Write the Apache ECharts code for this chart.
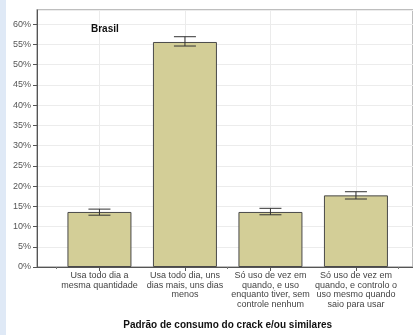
<!DOCTYPE html>
<html>
<head>
<meta charset="utf-8">
<script src="https://cdn.jsdelivr.net/npm/echarts@6/dist/echarts.min.js"></script>
<style>
  html, body { margin: 0; padding: 0; background: #ffffff; }
  #chart { width: 413px; height: 335px; }
</style>
</head>
<body>
<div id="chart"></div>
<script>
// Padrão de consumo do crack e/ou similares — Brasil
var categories = [
  'Usa todo dia a\nmesma quantidade',
  'Usa todo dia, uns\ndias mais, uns dias\nmenos',
  'Só uso de vez em\nquando, e uso\nenquanto tiver, sem\ncontrole nenhum',
  'Só uso de vez em\nquando, e controlo o\nuso mesmo quando\nsaio para usar'
];
var percentages = [13.6, 55.6, 13.6, 17.7];
var errorLow = [12.8, 54.6, 12.9, 16.8];
var errorHigh = [14.3, 56.9, 14.5, 18.6];

var FONT = 'Liberation Sans, Arial, sans-serif';
var Y_MAX = 63.5;

var chart = echarts.init(document.getElementById('chart'), null, { renderer: 'canvas' });

chart.setOption({
  backgroundColor: '#ffffff',
  animation: false,
  textStyle: { fontFamily: FONT },
  title: {
    text: 'Brasil',
    left: 91,
    top: 24,
    padding: 0,
    textStyle: { fontFamily: FONT, fontSize: 10, fontWeight: 'bold', color: '#111' }
  },
  graphic: [{
    type: 'rect',
    left: 0, top: 0,
    shape: { width: 6, height: 335 },
    style: { fill: '#dfe9f6' },
    silent: true
  }],
  grid: [
    { left: 37, right: -30, top: 10, bottom: 68, show: true,
      borderColor: '#a9a9a9', borderWidth: 1.5 },
    { left: 56.7, width: 342, top: 10, bottom: 68 },
    // spans the first to the last category centre, for the vertical guide lines
    { left: 56.7 + 342 / 8, width: 342 * 3 / 4, top: 10, bottom: 68 }
  ],
  xAxis: [
    { gridIndex: 0, type: 'value', min: 0, max: 1,
      axisLine: { show: true, lineStyle: { color: '#555', width: 1 } },
      axisTick: { show: false }, axisLabel: { show: false }, splitLine: { show: false } },
    { gridIndex: 1, type: 'category', data: categories, boundaryGap: true, position: 'bottom',
      axisLine: { show: false },
      axisTick: { show: true, alignWithLabel: true, length: 4, lineStyle: { color: '#555' } },
      axisLabel: { interval: 0, fontSize: 9, lineHeight: 9.5, color: '#444', margin: 4, fontFamily: FONT },
      splitLine: { show: false },
      name: 'Padrão de consumo do crack e/ou similares',
      nameLocation: 'middle', nameGap: 53,
      nameTextStyle: { fontFamily: FONT, fontSize: 10, fontWeight: 'bold', color: '#111' } },
    { gridIndex: 1, type: 'category', data: categories, boundaryGap: true, position: 'bottom', offset: 0,
      axisLine: { show: false },
      axisTick: { show: true, length: 2, lineStyle: { color: '#777' } },
      axisLabel: { show: false }, splitLine: { show: false } },
    { gridIndex: 2, type: 'category', data: categories, boundaryGap: false,
      axisLine: { show: false }, axisTick: { show: false }, axisLabel: { show: false },
      splitLine: { show: true, interval: 0, lineStyle: { color: '#ebebeb', width: 1 } } }
  ],
  yAxis: [
    { gridIndex: 0, type: 'value', min: 0, max: Y_MAX, interval: 5,
      axisLine: { show: true, lineStyle: { color: '#555', width: 1 } },
      axisTick: { show: true, length: 4, lineStyle: { color: '#555' } },
      axisLabel: { formatter: '{value}%', fontSize: 9, color: '#555', margin: 6,
        showMaxLabel: false, fontFamily: FONT },
      splitLine: { show: true, lineStyle: { color: '#ececec', width: 1 } } },
    { gridIndex: 1, type: 'value', min: 0, max: Y_MAX, show: false,
      splitLine: { show: false } },
    { gridIndex: 2, type: 'value', min: 0, max: Y_MAX, show: false,
      splitLine: { show: false } }
  ],
  series: [
    {
      type: 'bar',
      xAxisIndex: 1, yAxisIndex: 1,
      data: percentages,
      barWidth: 64,
      itemStyle: { color: '#d3ce97', borderColor: '#4a4a4a', borderWidth: 1 },
      z: 2
    },
    {
      type: 'custom',
      xAxisIndex: 1, yAxisIndex: 1,
      data: categories.map(function (c, i) { return [i, errorLow[i], errorHigh[i]]; }),
      renderItem: function (params, api) {
        var lo = api.coord([api.value(0), api.value(1)]);
        var hi = api.coord([api.value(0), api.value(2)]);
        var half = 11;
        var style = { stroke: '#333', lineWidth: 1 };
        return {
          type: 'group',
          children: [
            { type: 'line', shape: { x1: lo[0], y1: lo[1], x2: hi[0], y2: hi[1] }, style: style },
            { type: 'line', shape: { x1: lo[0] - half, y1: lo[1], x2: lo[0] + half, y2: lo[1] }, style: style },
            { type: 'line', shape: { x1: hi[0] - half, y1: hi[1], x2: hi[0] + half, y2: hi[1] }, style: style }
          ]
        };
      },
      z: 3
    }
  ]
});
</script>
</body>
</html>
